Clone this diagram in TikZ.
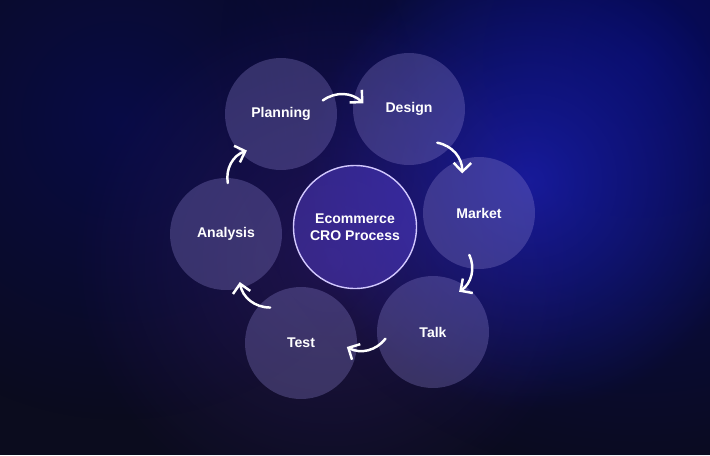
\documentclass[tikz,border=0pt]{standalone}
\usepackage{fontspec}
\setmainfont{Liberation Sans}
\usetikzlibrary{arrows.meta, fadings}

\definecolor{bgnight}{RGB}{11,12,30}
\definecolor{glowblue}{RGB}{25,30,175}
\definecolor{glownavy}{RGB}{5,10,110}
\definecolor{glowviolet}{RGB}{70,35,150}
\definecolor{bubble}{RGB}{140,130,205}
\definecolor{hubfill}{RGB}{95,70,220}
\definecolor{hubring}{RGB}{210,200,255}
\tikzfading[name=glowfade, inner color=transparent!0, outer color=transparent!100]

\begin{document}
\begin{tikzpicture}[
    x=0.2mm, y=0.2mm,
    stage/.style={circle, fill=bubble, fill opacity=0.32, text opacity=1,
                  text=white, font=\bfseries\fontsize{8}{9.6}\selectfont,
                  minimum size=22.4mm, inner sep=0pt, align=center},
    hub/.style={stage, fill=hubfill, fill opacity=0.42, draw=hubring,
                draw opacity=1, line width=0.8pt, minimum size=24.6mm},
    flow/.style={-{Straight Barb[length=5pt, width=10pt]}, white,
                 line width=1.4pt, line cap=round, bend left=40},
]
% backdrop and glow
\useasboundingbox (0,0) rectangle (710,-455);
\fill[bgnight] (0,0) rectangle (710,-455);
\begin{scope}
  \clip (0,0) rectangle (710,-455);
  \fill[glownavy, opacity=0.8, path fading=glowfade] (640,-60) circle (420);
  \fill[glownavy, opacity=0.5, path fading=glowfade] (120,-120) circle (300);
  \fill[glowblue, opacity=0.8, path fading=glowfade] (530,-180) circle (230);
  \fill[glowviolet, opacity=0.35, path fading=glowfade] (330,-260) circle (260);
\end{scope}
% stages
\node[hub] (hub) at (355,-227) {Ecommerce\\CRO Process};
\node[stage] (planning) at (281,-114) {Planning};
\node[stage] (design)   at (409,-109) {Design};
\node[stage] (market)   at (479,-213) {Market};
\node[stage] (talk)     at (433,-332) {Talk};
\node[stage] (test)     at (301,-343) {Test};
\node[stage] (analysis) at (226,-234) {Analysis};
% cycle
\draw[flow] ([shift={(18:44)}]planning.center) to ([shift={(173:46)}]design.center);
\draw[flow] ([shift={(-50:44)}]design.center) to ([shift={(113:43)}]market.center);
\draw[flow] ([shift={(-103:43)}]market.center) to ([shift={(57:48)}]talk.center);
\draw[flow] ([shift={(188:48)}]talk.center) to ([shift={(-5:46)}]test.center);
\draw[flow] ([shift={(131:47)}]test.center) to ([shift={(-74:50)}]analysis.center);
\draw[flow] ([shift={(88:51)}]analysis.center) to ([shift={(227:50)}]planning.center);
\end{tikzpicture}
\end{document}
